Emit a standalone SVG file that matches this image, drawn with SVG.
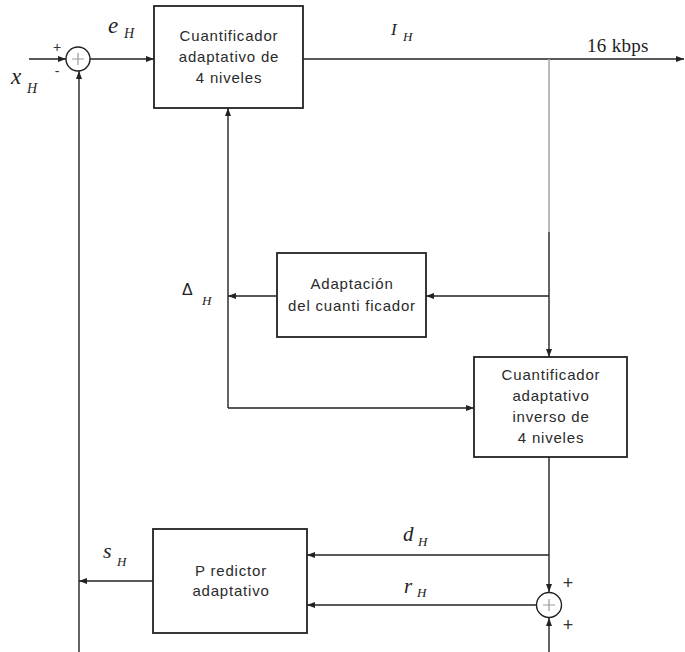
<svg xmlns="http://www.w3.org/2000/svg" width="685" height="652" viewBox="0 0 685 652">
<style>
.box{fill:#fff;stroke:#222;stroke-width:1.8}
.bt{font-family:"Liberation Sans",Arial,sans-serif;font-size:15px;fill:#2a2a2a;text-anchor:middle;letter-spacing:0.8px}
.ln{fill:none;stroke:#222;stroke-width:1.4}
.gray{fill:none;stroke:#aaa;stroke-width:1.6}
.lab{font-family:"Liberation Serif","Times New Roman",serif;font-style:italic;fill:#222}
.sign{font-family:"Liberation Sans",Arial,sans-serif;fill:#333}
.sum{fill:#fff;stroke:#222;stroke-width:1.4}
.cross{stroke:#999;stroke-width:1.2}
</style>
<defs>
<marker id="arr" markerWidth="9" markerHeight="7" refX="8" refY="3" orient="auto" markerUnits="userSpaceOnUse">
<path d="M0,0 L8,3 L0,6 z" fill="#222"/>
</marker>
</defs>
<rect width="685" height="652" fill="#fff"/>

<g id="connectors">
<path class="ln" d="M29,59 L66,59" marker-end="url(#arr)"/>
<path class="ln" d="M90,59 L154,59" marker-end="url(#arr)"/>
<path class="ln" d="M303,59 L684,59" marker-end="url(#arr)"/>
<path class="gray" d="M549,59 L549,232"/>
<path class="ln" d="M549,232 L549,357" marker-end="url(#arr)"/>
<path class="ln" d="M549,296 L426,296" marker-end="url(#arr)"/>
<path class="ln" d="M277,296 L228,296" marker-end="url(#arr)"/>
<path class="ln" d="M228,408 L228,108" marker-end="url(#arr)"/>
<path class="ln" d="M228,408 L474,408" marker-end="url(#arr)"/>
<path class="ln" d="M549,457 L549,592" marker-end="url(#arr)"/>
<path class="ln" d="M549,652 L549,618" marker-end="url(#arr)"/>
<path class="ln" d="M549,555 L307,555" marker-end="url(#arr)"/>
<path class="ln" d="M536,605 L307,605" marker-end="url(#arr)"/>
<path class="ln" d="M153,581 L79,581" marker-end="url(#arr)"/>
<path class="ln" d="M79,652 L79,71" marker-end="url(#arr)"/>
</g>

<g id="sum1">
<circle class="sum" cx="78" cy="59" r="12"/>
<path class="cross" d="M72,59 L84,59 M78,53 L78,65"/>
<text class="sign" x="57" y="52" font-size="14" text-anchor="middle">+</text>
<text class="sign" x="57" y="76" font-size="14" text-anchor="middle">-</text>
</g>

<g id="sum2">
<circle class="sum" cx="549" cy="605" r="12.5"/>
<path class="cross" d="M543,605 L555,605 M549,599 L549,611"/>
<text class="sign" x="568" y="589" font-size="18" text-anchor="middle">+</text>
<text class="sign" x="568" y="631" font-size="18" text-anchor="middle">+</text>
</g>

<g id="quant">
<rect class="box" x="154" y="6" width="149" height="102"/>
<text class="bt" x="229" y="41">Cuantificador</text>
<text class="bt" x="229" y="62">adaptativo de</text>
<text class="bt" x="229" y="83">4 niveles</text>
</g>

<g id="adapt">
<rect class="box" x="277" y="253" width="149" height="84"/>
<text class="bt" x="352" y="289">Adaptación</text>
<text class="bt" x="352" y="311">del cuanti ficador</text>
</g>

<g id="invquant">
<rect class="box" x="474" y="357" width="153" height="100"/>
<text class="bt" x="551" y="380">Cuantificador</text>
<text class="bt" x="551" y="401">adaptativo</text>
<text class="bt" x="551" y="422">inverso de</text>
<text class="bt" x="551" y="443">4 niveles</text>
</g>

<g id="pred">
<rect class="box" x="153" y="529" width="154" height="104"/>
<text class="bt" x="231" y="576">P redictor</text>
<text class="bt" x="231" y="596">adaptativo</text>
</g>

<g id="labels">
<text class="lab" x="11" y="84" font-size="23">x</text>
<text class="lab" x="27" y="93" font-size="14">H</text>
<text class="lab" x="108" y="33" font-size="23">e</text>
<text class="lab" x="124" y="38" font-size="14">H</text>
<text class="lab" x="391" y="35" font-size="17">I</text>
<text class="lab" x="403" y="41" font-size="13">H</text>
<text x="587" y="52" font-family="Liberation Serif,'Times New Roman',serif" font-size="19" fill="#222" letter-spacing="0.3">16 kbps</text>
<text x="182" y="295" font-family="Liberation Sans,Arial,sans-serif" font-size="16" fill="#222">Δ</text>
<text class="lab" x="202" y="305" font-size="13">H</text>
<text class="lab" x="403" y="541" font-size="21">d</text>
<text class="lab" x="418" y="546" font-size="13">H</text>
<text class="lab" x="404" y="593" font-size="21">r</text>
<text class="lab" x="417" y="597" font-size="13">H</text>
<text class="lab" x="103" y="558" font-size="22">s</text>
<text class="lab" x="117" y="566" font-size="13">H</text>
</g>
</svg>
